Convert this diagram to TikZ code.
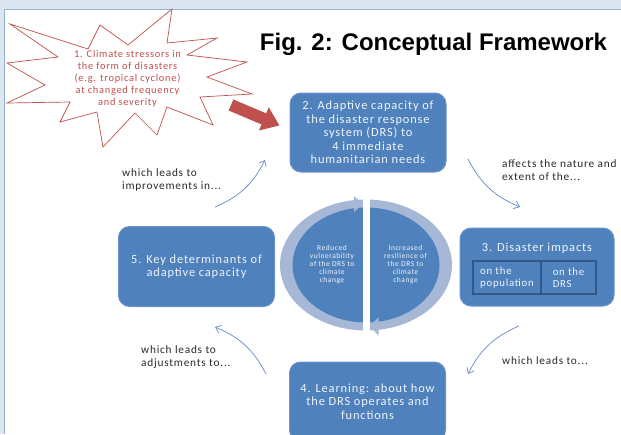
\documentclass[tikz,border=0pt]{standalone}
\usepackage{fontspec}
\setmainfont{Carlito}[LetterSpace=7]
\newfontfamily\headfont{Liberation Sans}
\usetikzlibrary{arrows.meta, positioning, calc}
\definecolor{stageblue}{RGB}{79, 129, 189}
\definecolor{stageedge}{RGB}{108, 148, 204}
\definecolor{stagetext}{RGB}{240, 244, 250}
\definecolor{cellblue}{RGB}{50, 88, 138}
\definecolor{ringblue}{RGB}{167, 184, 215}
\definecolor{linkblue}{RGB}{96, 138, 198}
\definecolor{stressred}{RGB}{192, 80, 77}
\definecolor{notegray}{RGB}{40, 40, 40}
\definecolor{framefill}{RGB}{220, 230, 243}
\definecolor{frameline}{RGB}{150, 178, 214}

\begin{document}
\begin{tikzpicture}[x=1pt, y=-1pt,
    stage/.style={rectangle, draw=stageedge, fill=stageblue, line width=1pt, rounded corners=11pt, minimum width=156pt, minimum height=79pt, align=center, text=stagetext, font=\fontsize{12.4}{13.5}\selectfont},
    stagelabel/.style={text=stagetext, font=\fontsize{12.4}{13.5}\selectfont},
    cell/.style={rectangle, draw=cellblue, line width=1.5pt, outer sep=0pt, minimum height=33pt, align=left, text=stagetext, font=\fontsize{10.8}{12}\selectfont},
    hubtext/.style={align=center, text=stagetext, font=\fontsize{7.5}{8.2}\selectfont},
    stresstext/.style={align=center, text=stressred, font=\fontsize{10.4}{12}\selectfont},
    note/.style={anchor=west, align=left, inner sep=0pt, text=notegray, font=\fontsize{11.3}{13}\selectfont},
    link/.style={draw=linkblue, line width=0.7pt, -{Straight Barb[length=5pt, width=8pt]}},
    bigarrow/.style={draw=stressred, line width=12pt, -{Triangle[length=17pt, width=24pt]}},
    stressstar/.style={draw=stressred, fill=white, line width=0.7pt},
    heading/.style={anchor=base, text=black, font=\headfont\bfseries\fontsize{24}{28}\selectfont}
]
    \clip (0,0) rectangle (621,434);

    % window frame
    \fill[framefill] (0,0) rectangle (621,9);
    \fill[framefill] (0,9) rectangle (4.5,434);
    \draw[frameline] (621,9) -- (4.5,9) -- (4.5,434);

    \node[heading] (figtitle) at (433.5,50) {Fig. 2: Conceptual Framework};

    % Stressor star
    \draw[stressstar] (10,24) -- (88,49) -- (100,25) -- (128,45) -- (172,9) -- (167,43)
        -- (217,38) -- (187,55) -- (247,62) -- (207,77) -- (252,94) -- (200,97)
        -- (213,125) -- (167,107) -- (157,135) -- (135,113) -- (103,147) -- (97,112)
        -- (60,122) -- (70,102) -- (7,103) -- (45,85) -- (7,63) -- (58,57) -- cycle;
    \node[stresstext] (stress) at (127.5,79) {1. Climate stressors in\\the form of disasters\\(e.g. tropical cyclone)\\at changed frequency\\and severity};

    % The four stage boxes
    \node[stage] (box2) at (368,132.5) {2. Adaptive capacity of\\the disaster response\\system (DRS) to\\4 immediate\\humanitarian needs};
    \node[stage, minimum width=154pt, minimum height=78pt] (box3) at (537,267) {};
    \node[stage, minimum height=80pt] (box5) at (196.5,266.5) {5. Key determinants of\\adaptive capacity};
    \node[stage] (box4) at (367.5,401.5) {4. Learning: about how\\the DRS operates and\\functions};

    % Impacts split in two
    \node[stagelabel] (impacts) at ($(box3.north)+(0,21)$) {3. Disaster impacts};
    \node[cell, anchor=north west, minimum width=68pt] (popcell) at (473,261) {on the\\population};
    \node[cell, right=0pt of popcell, minimum width=55pt] (drscell) {on the\\DRS};

    % Stressor hitting stage 2
    \coordinate (stressfoot) at (231,105);
    \draw[bigarrow] (stressfoot) -- ($(box2.west)+(-10,-7)$);

    % Hub in the middle
    \coordinate (hub) at (366,265);
    \fill[ringblue, even odd rule] (hub) ellipse[x radius=86, y radius=65.5] (hub) ellipse[x radius=73, y radius=57];
    \fill[stageblue] (hub) ellipse[x radius=73.5, y radius=57.5];
    \fill[white] ($(hub)+(-3,-72)$) rectangle ($(hub)+(3.5,72)$);
    \fill[ringblue] ($(hub)+(-3,-61)$) -- ++(-9,-8) -- ++(0,16) -- cycle;
    \fill[ringblue] ($(hub)+(3.5,61)$) -- ++(9,-8.5) -- ++(0,18) -- cycle;
    \node[hubtext] (vuln) at (332,264.5) {Reduced\\vulnerability\\of the DRS to\\climate\\change};
    \node[hubtext] (resil) at (405.5,264.5) {Increased\\resilience of\\the DRS to\\climate\\change};

    % Links round the cycle
    \coordinate (from5) at (215,207);
    \coordinate (to2) at (265,160);
    \coordinate (from2) at (468,159);
    \coordinate (to3) at (520,207);
    \coordinate (from3) at (519,326);
    \coordinate (to4) at (468,374);
    \coordinate (from4) at (266,374);
    \coordinate (to5) at (215,327);
    \draw[link] (from5) to[bend right=20] (to2);
    \draw[link] (from2) to[bend right=20] (to3);
    \draw[link] (from3) to[bend right=20] (to4);
    \draw[link] (from4) to[bend right=20] (to5);

    \node[note] (improve) at (122,180) {which leads to\\improvements in...};
    \node[note] (affects) at (502,170) {affects the nature and\\extent of the...};
    \node[note] (leads) at (502,361) {which leads to...};
    \node[note] (adjust) at (141,357) {which leads to\\adjustments to...};
\end{tikzpicture}
\end{document}
